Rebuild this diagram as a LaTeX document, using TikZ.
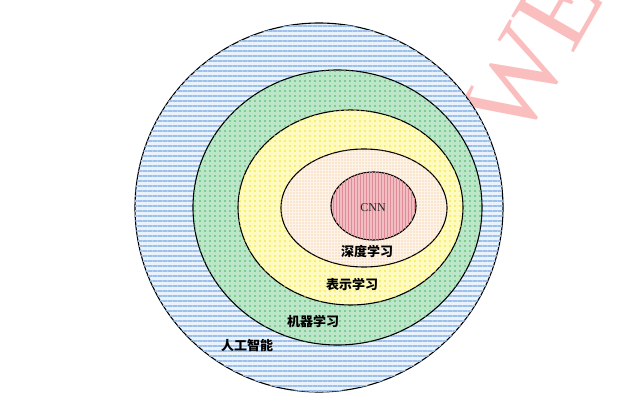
\documentclass[tikz,border=0pt]{standalone}
\usepackage{fontspec}
\usetikzlibrary{patterns.meta}
\newfontfamily\cjk{Noto Sans CJK SC}
\newfontfamily\romfont{Liberation Serif}

\definecolor{aiBg}{HTML}{EAF2FB}
\definecolor{aiLn}{HTML}{9CC0EA}
\definecolor{mlBg}{HTML}{BCE6C8}
\definecolor{mlDot}{HTML}{3FB466}
\definecolor{rlBg}{HTML}{FFFBBE}
\definecolor{rlDot}{HTML}{F0DF30}
\definecolor{dlBg}{HTML}{FDF3E8}
\definecolor{dlDot}{HTML}{F2BE7E}
\definecolor{cnnBg}{HTML}{F1BCC2}
\definecolor{cnnLn}{HTML}{DE8C96}
\definecolor{wmPink}{HTML}{FABEBE}

\begin{document}
\begin{tikzpicture}[x=1pt,y=-1pt,
    ring/.style={draw=black,line width=1.1pt},
    zh label/.style={font=\cjk\bfseries\fontsize{13}{13}\selectfont,inner sep=0pt},
    wm label/.style={font=\romfont\fontsize{110}{110}\selectfont,text=wmPink,inner sep=0pt}]
    \useasboundingbox (0,0) rectangle (640,406);

    % watermark behind the rings
    \begin{scope}
        \clip (0,0) rectangle (640,406);
        \node[wm label, rotate=60, anchor=base west] (wm) at (520,146) {WE};
    \end{scope}

    % rings, outside in
    \draw[ring, fill=aiBg, postaction={pattern={Lines[distance=5pt,line width=2pt]},pattern color=aiLn}]
        (319,207.5) ellipse [x radius=184, y radius=184.5];
    \draw[ring, fill=mlBg, postaction={pattern={Dots[distance=5pt,radius=0.9pt]},pattern color=mlDot}]
        (337.5,207.5) ellipse [x radius=144.5, y radius=137.5];
    \draw[ring, fill=rlBg, postaction={pattern={Dots[distance=5pt,radius=0.9pt]},pattern color=rlDot}]
        (350.5,207.5) ellipse [x radius=112.5, y radius=97.5];
    \draw[ring, fill=dlBg, postaction={pattern={Dots[distance=3pt,radius=0.6pt]},pattern color=dlDot}]
        (364,208) ellipse [x radius=83, y radius=59];
    \draw[ring, fill=cnnBg, postaction={pattern={Lines[angle=90,distance=3pt,line width=0.8pt]},pattern color=cnnLn}]
        (373.5,206) ellipse [x radius=42.5, y radius=34];

    % labels
    \node[font=\romfont\fontsize{12}{12}\selectfont, text=black!85] (cnn) at (373,208) {CNN};
    \node[zh label] (dl) at (367,251) {深度学习};
    \node[zh label] (rl) at (352,285) {表示学习};
    \node[zh label] (ml) at (313,321) {机器学习};
    \node[zh label] (ai) at (247,346) {人工智能};
\end{tikzpicture}
\end{document}
